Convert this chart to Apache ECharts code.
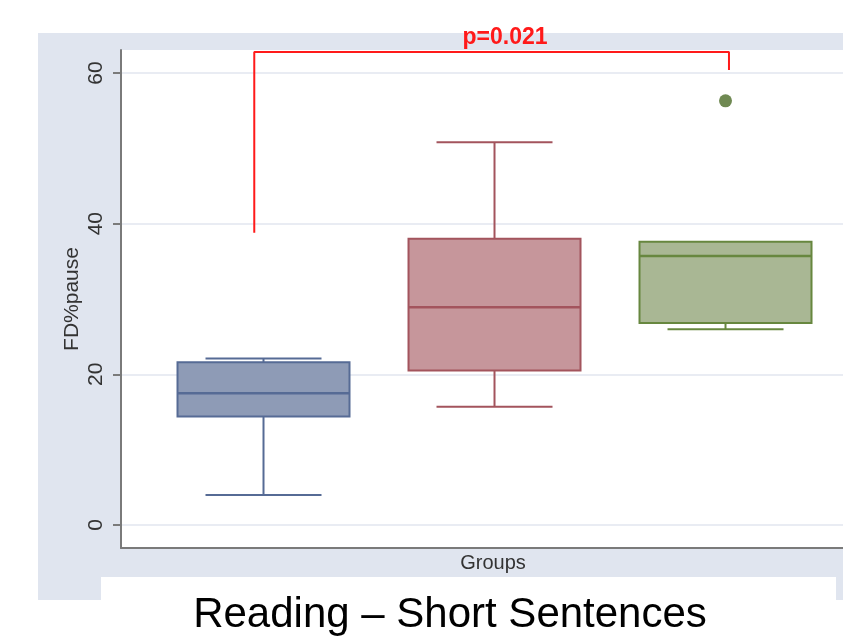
<!DOCTYPE html>
<html>
<head>
<meta charset="utf-8">
<title>Reading – Short Sentences</title>
<script src="https://cdn.jsdelivr.net/npm/echarts@6/dist/echarts.min.js"></script>
<style>
  html, body { margin: 0; padding: 0; background: #ffffff; }
  #chart { width: 843px; height: 637px; }
</style>
</head>
<body>
<div id="chart"></div>
<script>
// Groups are placed at positions 1, 2, 3 on the horizontal axis
var groupPositions = [1, 2, 3];
// Five-number summaries per group: [min, Q1, median, Q3, max]
var groupMin    = [4.0, 15.7, 26.0];
var groupQ1     = [14.4, 20.5, 26.8];
var groupMedian = [17.5, 28.9, 35.7];
var groupQ3     = [21.6, 38.0, 37.6];
var groupMax    = [22.1, 50.8, 37.6];
// Outlying observations: [position, value]
var outliers = [[3, 56.3]];
// Significance bracket between group 1 and group 3
var bracketX = [0.96, 0.96, 3.015, 3.015];
var bracketY = [38.8, 62.8, 62.8, 60.4];
var pLabel = 'p=0.021';
var yTicks = [0, 20, 40, 60];

var fills   = ['#8e9bb6', '#c6969b', '#a9b794'];
var strokes = ['#566b95', '#a3545d', '#67873f'];

var boxData = groupPositions.map(function (p, i) {
  return [p, groupMin[i], groupQ1[i], groupMedian[i], groupQ3[i], groupMax[i]];
});
var bracketData = bracketX.map(function (x, i) { return [x, bracketY[i]]; });

var chart = echarts.init(document.getElementById('chart'), null, { renderer: 'canvas' });
var font = "'Liberation Sans', Arial, Helvetica, sans-serif";

function renderBox(params, api) {
  var i = params.dataIndex;
  var x = api.value(0);
  var pMin = api.coord([x, api.value(1)]);
  var pQ1 = api.coord([x, api.value(2)]);
  var pMed = api.coord([x, api.value(3)]);
  var pQ3 = api.coord([x, api.value(4)]);
  var pMax = api.coord([x, api.value(5)]);
  var boxW = 172, capW = 116;
  var cx = pMed[0];
  var stroke = strokes[i];
  var lineStyle = { stroke: stroke, lineWidth: 2 };
  var hasUpper = Math.abs(pMax[1] - pQ3[1]) > 0.5;
  var children = [];
  // whiskers and caps
  if (hasUpper) {
    children.push({ type: 'line', shape: { x1: cx, y1: pMax[1], x2: cx, y2: pQ3[1] }, style: lineStyle });
    children.push({ type: 'line', shape: { x1: cx - capW / 2, y1: pMax[1], x2: cx + capW / 2, y2: pMax[1] }, style: lineStyle });
  }
  children.push({ type: 'line', shape: { x1: cx, y1: pQ1[1], x2: cx, y2: pMin[1] }, style: lineStyle });
  children.push({ type: 'line', shape: { x1: cx - capW / 2, y1: pMin[1], x2: cx + capW / 2, y2: pMin[1] }, style: lineStyle });
  // box
  children.push({
    type: 'rect',
    shape: { x: cx - boxW / 2, y: pQ3[1], width: boxW, height: pQ1[1] - pQ3[1] },
    style: { fill: fills[i], stroke: stroke, lineWidth: 2 }
  });
  // median
  children.push({ type: 'line', shape: { x1: cx - boxW / 2, y1: pMed[1], x2: cx + boxW / 2, y2: pMed[1] }, style: { stroke: stroke, lineWidth: 2.5 } });
  return { type: 'group', children: children };
}

var option = {
  animation: false,
  graphic: [
    { type: 'rect', z: -10, shape: { x: 38, y: 33, width: 805, height: 567 }, style: { fill: '#e0e5ef' } },
    { type: 'rect', z: -9, shape: { x: 101, y: 577, width: 735, height: 23 }, style: { fill: '#ffffff' } },
    {
      type: 'text', z: 10, x: 505, y: 38,
      style: { text: pLabel, fill: '#ff1a1a', font: 'bold 23px ' + font, textAlign: 'center', textVerticalAlign: 'middle' }
    },
    {
      type: 'text', z: 10, x: 450, y: 615,
      style: { text: 'Reading – Short Sentences', fill: '#000000', font: '42px ' + font, textAlign: 'center', textVerticalAlign: 'middle' }
    }
  ],
  grid: {
    left: 121, top: 50, right: 0, height: 498,
    show: true, backgroundColor: '#ffffff', borderWidth: 0
  },
  xAxis: {
    type: 'value', min: 0.3831, max: 3.5086,
    name: 'Groups', nameLocation: 'middle', nameGap: 5,
    nameTextStyle: { fontFamily: font, fontSize: 20, color: '#333333', padding: [0, 0, 0, 22] },
    axisLine: { show: true, onZero: false, lineStyle: { color: '#7a7a7a', width: 2 } },
    axisTick: { show: false },
    axisLabel: { show: false },
    splitLine: { show: false }
  },
  yAxis: {
    type: 'value', min: -3.05, max: 63.05,
    name: 'FD%pause', nameLocation: 'middle', nameGap: 38, nameMoveOverlap: false,
    nameTextStyle: { fontFamily: font, fontSize: 21, color: '#333333' },
    axisLine: { show: true, lineStyle: { color: '#7a7a7a', width: 2 } },
    axisTick: { show: true, length: 8, customValues: yTicks, lineStyle: { color: '#7a7a7a', width: 2 } },
    axisLabel: { customValues: yTicks, rotate: 90, margin: 14, fontFamily: font, fontSize: 21, color: '#333333' },
    splitLine: { show: true, lineStyle: { color: '#e9ecf3', width: 2 } }
  },
  series: [
    {
      type: 'custom',
      renderItem: renderBox,
      data: boxData,
      encode: { x: 0, y: [1, 2, 3, 4, 5] },
      z: 3
    },
    {
      type: 'scatter',
      data: outliers,
      symbolSize: 13,
      itemStyle: { color: '#4b6b27' },
      z: 4
    },
    {
      type: 'line',
      data: bracketData,
      symbol: 'none',
      lineStyle: { color: '#ff1a1a', width: 2 },
      clip: false,
      z: 5
    }
  ]
};
chart.setOption(option);
</script>
</body>
</html>
